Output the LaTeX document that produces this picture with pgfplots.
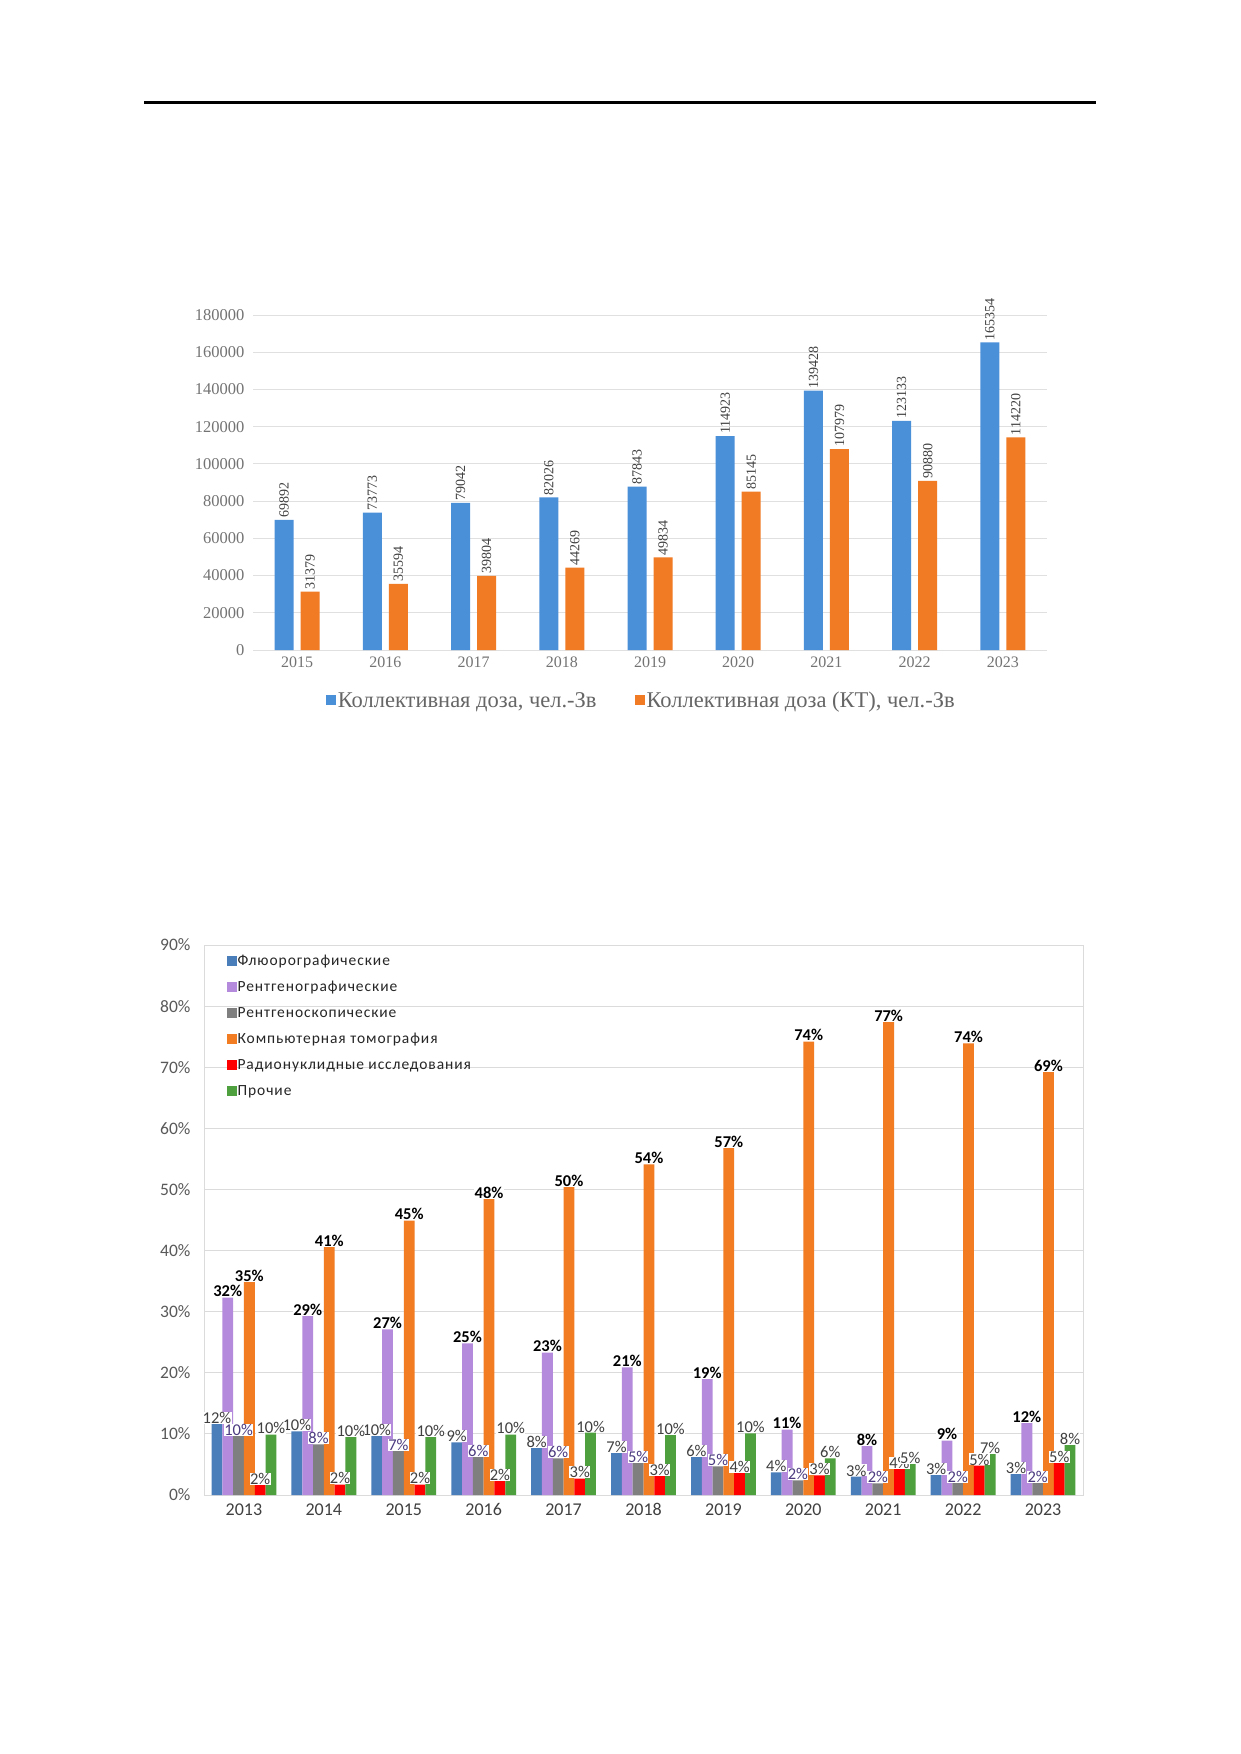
\documentclass[border=0pt]{standalone}
\usepackage{fontspec}
\setmainfont{Liberation Serif}
\newfontfamily\calibri{Carlito}
\newfontfamily\calibriwide[LetterSpace=6]{Carlito}
\usepackage{pgfplots}
\pgfplotsset{compat=1.18}
\usepackage{pgfplotstable}

\definecolor{cBlue}{HTML}{4A90D9}
\definecolor{cOrange}{HTML}{F07B24}
\definecolor{sBlue}{HTML}{4A7EBB}
\definecolor{sPurple}{HTML}{B48BDC}
\definecolor{sGray}{HTML}{7F7F7F}
\definecolor{sOrange}{HTML}{F27C22}
\definecolor{sRed}{HTML}{FF0000}
\definecolor{sGreen}{HTML}{4E9F3D}
\definecolor{lblGray}{HTML}{404040}
\definecolor{lblPurple}{HTML}{4B3A80}

% Chart 1
\pgfplotstableread{
x y lab
0 69892 69892
1 73773 73773
2 79042 79042
3 82026 82026
4 87843 87843
5 114923 114923
6 139428 139428
7 123133 123133
8 165354 165354
}\tabA
\pgfplotstableread{
x y lab
0 31379 31379
1 35594 35594
2 39804 39804
3 44269 44269
4 49834 49834
5 85145 85145
6 107979 107979
7 90880 90880
8 114220 114220
}\tabB

% Chart 2
\pgfplotstableread{
x y lab
0 11.6 12
1 10.4 10
2 9.7 10
3 8.6 9
4 7.7 8
5 6.9 7
6 6.2 6
7 3.7 4
8 3.0 3
9 3.3 3
10 3.4 3
}\tFl
\pgfplotstableread{
x y lab
0 32.3 32
1 29.3 29
2 27.1 27
3 24.8 25
4 23.3 23
5 20.9 21
6 19.0 19
7 10.7 11
8 8.0 8
9 8.9 9
10 11.8 12
}\tRg
\pgfplotstableread{
x y lab
0 9.7 10
1 8.3 8
2 7.2 7
3 6.2 6
4 6.0 6
5 5.2 5
6 4.7 5
7 2.4 2
8 1.9 2
9 2.0 2
10 2.0 2
}\tRs
\pgfplotstableread{
x y lab
0 34.9 35
1 40.6 41
2 44.9 45
3 48.4 48
4 50.4 50
5 54.1 54
6 56.8 57
7 74.2 74
8 77.4 77
9 73.9 74
10 69.2 69
}\tKt
\pgfplotstableread{
x y lab
0 1.6 2
1 1.7 2
2 1.7 2
3 2.3 2
4 2.7 3
5 3.1 3
6 3.6 4
7 3.2 3
8 4.3 4
9 4.8 5
10 5.2 5
}\tRn
\pgfplotstableread{
x y lab
0 9.9 10
1 9.5 10
2 9.5 10
3 9.9 10
4 10.2 10
5 9.8 10
6 10.1 10
7 6.0 6
8 5.1 5
9 6.7 7
10 8.2 8
}\tPr

\begin{document}
\begin{tikzpicture}[x=1pt,y=1pt]
\path[use as bounding box, fill=white] (0,0) rectangle (1240,-1754);
\draw[line width=3pt] (144,-102) -- (1096,-102);

% ---------------- Chart 1 ----------------
\begin{axis}[
  at={(253pt,-650pt)}, anchor=south west,
  scale only axis, width=794pt, height=335pt,
  xmin=-0.5, xmax=8.5, ymin=0, ymax=180000,
  ybar=7pt, bar width=19pt,
  xtick={0,1,2,3,4,5,6,7,8},
  xticklabels={2015,2016,2017,2018,2019,2020,2021,2022,2023},
  ytick={0,20000,40000,60000,80000,100000,120000,140000,160000,180000},
  yticklabels={0,20000,40000,60000,80000,100000,120000,140000,160000,180000},
  scaled y ticks=false,
  ymajorgrids, major grid style={draw=black!12, line width=1pt},
  axis line style={draw=none},
  major tick length=0pt,
  yticklabel style={font=\rmfamily\fontsize{16.5}{18}\selectfont, text=black!55, xshift=-5pt},
  xticklabel style={font=\rmfamily\fontsize{16}{18}\selectfont, text=black!55, yshift=-3pt},
  clip=false,
  point meta=explicit symbolic,
  nodes near coords={\pgfplotspointmeta},
  every node near coord/.append style={rotate=90, anchor=west, font=\rmfamily\fontsize{14}{16}\selectfont, text=lblGray, inner sep=2pt},
  legend style={at={(0.489,-0.152)}, anchor=center, draw=none, fill=none,
    legend columns=2, font=\rmfamily\fontsize{22.5}{24}\selectfont, text=black!60,
    /tikz/every even column/.append style={column sep=36pt}},
  legend image code/.code={\draw[#1,/tikz/.cd,draw=none] (0pt,-4pt) rectangle (10pt,6pt);},
]
\addplot[fill=cBlue, draw=none] table[x=x, y=y, meta=lab] {\tabA};
\addplot[fill=cOrange, draw=none] table[x=x, y=y, meta=lab] {\tabB};
\legend{{Коллективная доза, чел.-Зв},{Коллективная доза (КТ), чел.-Зв}}
\end{axis}

% ---------------- Chart 2 ----------------
\begin{axis}[
  at={(204pt,-1495pt)}, anchor=south west,
  scale only axis, width=879pt, height=550pt,
  xmin=-0.5, xmax=10.5, ymin=0, ymax=90,
  ybar=0pt, bar width=10.8pt,
  xtick={0,1,2,3,4,5,6,7,8,9,10},
  xticklabels={2013,2014,2015,2016,2017,2018,2019,2020,2021,2022,2023},
  ytick={0,10,20,30,40,50,60,70,80,90},
  yticklabels={0\%,10\%,20\%,30\%,40\%,50\%,60\%,70\%,80\%,90\%},
  ymajorgrids, major grid style={draw=black!14, line width=1pt},
  axis line style={draw=black!14, line width=1pt},
  major tick length=0pt,
  yticklabel style={font=\calibri\fontsize{17.5}{19}\selectfont, text=black!65, xshift=-10pt},
  xticklabel style={font=\calibri\fontsize{18}{20}\selectfont, text=black!75, yshift=-5pt},
  clip=false,
  point meta=explicit symbolic,
  nodes near coords={\pgfplotspointmeta\%},
  every node near coord/.append style={font=\calibri\fontsize{16.5}{18}\selectfont, text=lblGray, fill=white, inner sep=0.3pt},
  legend style={at={(0.022,0.99)}, anchor=north west, draw=none, fill=none,
    font=\calibriwide\fontsize{15.5}{17}\selectfont, text=black!85, row sep=8pt,
    nodes={inner sep=1pt, text height=12pt, text depth=4pt}},
  legend cell align=left,
  legend image code/.code={\draw[#1,/tikz/.cd,draw=none] (0pt,-4pt) rectangle (10pt,6pt);},
]
\addplot[fill=sBlue, draw=none] table[x=x, y=y, meta=lab] {\tFl};
\addplot[fill=sPurple, draw=none, every node near coord/.append style={font=\calibri\bfseries\fontsize{16.5}{18}\selectfont, text=black}] table[x=x, y=y, meta=lab] {\tRg};
\addplot[fill=sGray, draw=none, every node near coord/.append style={text=lblPurple}] table[x=x, y=y, meta=lab] {\tRs};
\addplot[fill=sOrange, draw=none, every node near coord/.append style={font=\calibri\bfseries\fontsize{16.5}{18}\selectfont, text=black}] table[x=x, y=y, meta=lab] {\tKt};
\addplot[fill=sRed, draw=none] table[x=x, y=y, meta=lab] {\tRn};
\addplot[fill=sGreen, draw=none] table[x=x, y=y, meta=lab] {\tPr};
\legend{Флюорографические, Рентгенографические, Рентгеноскопические, Компьютерная томография, Радионуклидные исследования, Прочие}
\end{axis}
\end{tikzpicture}
\end{document}
